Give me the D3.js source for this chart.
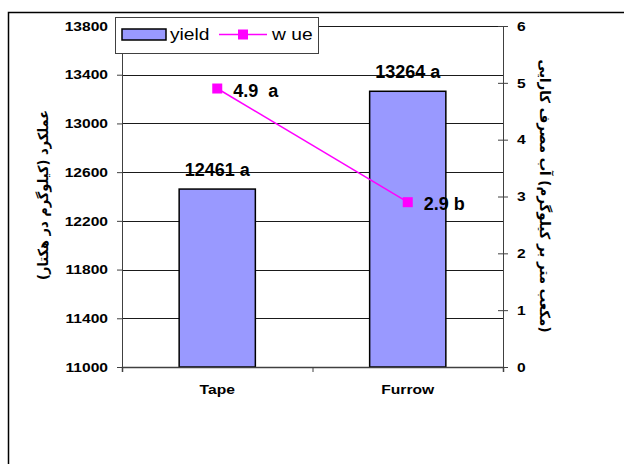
<!DOCTYPE html>
<html>
<head>
<meta charset="utf-8">
<script src="https://cdn.jsdelivr.net/npm/d3@7"></script>
<style>
  body { margin: 0; background: #fff; }
  svg { display: block; font-family: "Liberation Sans", Arial, sans-serif; }
</style>
</head>
<body>
<div id="chart"></div>
<script>
// chart values
const categories = ["Tape", "Furrow"];
const yieldValues = [12461, 13264];
const yieldLabels = ["12461 a", "13264 a"];
const wueValues = [4.9, 2.9];
const wueLabels = ["4.9  a", "2.9 b"];
const yieldTicks = [11000, 11400, 11800, 12200, 12600, 13000, 13400, 13800];
const wueTicks = [0, 1, 2, 3, 4, 5, 6];
const seriesNames = ["yield", "w ue"];
const yieldTitle = "عملکرد (کیلوگرم در هکتار)";
// words kept in left-to-right order like the original picture
const wueTitle = ["کارایی", "مصرف", "آب", "(کیلوگرم", "بر", "متر", "مکعب)"];

const svgWidth = 624, svgHeight = 464;
const margin = { top: 26, right: 121, bottom: 97, left: 122 };
const width = svgWidth - margin.left - margin.right;
const height = svgHeight - margin.top - margin.bottom;

const barColor = "#9999ff";
const lineColor = "#ff00ff";
const axisColor = "#404040";

const svg = d3.select("#chart")
  .append("svg")
  .attr("width", svgWidth)
  .attr("height", svgHeight);

// outer chart frame (runs past the right and bottom edges)
svg.append("rect")
  .attr("x", 8.5).attr("y", 12.5)
  .attr("width", 700).attr("height", 600)
  .attr("fill", "none")
  .attr("stroke", "#000")
  .attr("stroke-width", 1.5);

const chartGroup = svg.append("g")
  .attr("transform", `translate(${margin.left}, ${margin.top})`);

// scales
const x = d3.scaleBand()
  .domain(categories)
  .range([0, width])
  .paddingInner(0.6)
  .paddingOuter(0.3);

const yLeft = d3.scaleLinear()
  .domain([yieldTicks[0], yieldTicks[yieldTicks.length - 1]])
  .range([height, 0]);

const yRight = d3.scaleLinear()
  .domain([wueTicks[0], wueTicks[wueTicks.length - 1]])
  .range([height, 0]);

// stretch text horizontally a bit, the old chart font was wide
function stretch(sel, k) {
  sel.each(function() {
    const w = this.getComputedTextLength();
    d3.select(this)
      .attr("textLength", w * k)
      .attr("lengthAdjust", "spacingAndGlyphs");
  });
}

// gridlines
chartGroup.append("g")
  .selectAll("line")
  .data(yieldTicks)
  .enter()
  .append("line")
  .attr("x1", 0)
  .attr("x2", width)
  .attr("y1", d => Math.round(yLeft(d)) + 0.5)
  .attr("y2", d => Math.round(yLeft(d)) + 0.5)
  .attr("stroke", "#1a1a1a")
  .attr("stroke-width", 1);

// bars
chartGroup.append("g")
  .selectAll("rect")
  .data(categories)
  .enter()
  .append("rect")
  .attr("x", d => x(d))
  .attr("y", (d, i) => yLeft(yieldValues[i]))
  .attr("width", x.bandwidth())
  .attr("height", (d, i) => height - yLeft(yieldValues[i]))
  .attr("fill", barColor)
  .attr("stroke", "#000")
  .attr("stroke-width", 1.5);

// left axis
const leftAxis = chartGroup.append("g")
  .call(d3.axisLeft(yLeft).tickValues(yieldTicks).tickFormat(d3.format("d"))
    .tickSize(5).tickPadding(9));
leftAxis.select(".domain").attr("stroke", axisColor);
leftAxis.selectAll(".tick line").attr("stroke", axisColor);
leftAxis.selectAll("text")
  .attr("font-size", 13)
  .attr("font-weight", "bold")
  .attr("font-family", "'Liberation Sans', Arial, sans-serif")
  .attr("fill", "#000")
  .call(stretch, 1.2);

// right axis, ticks cross the line
const rightAxis = chartGroup.append("g")
  .attr("transform", `translate(${width}, 0)`)
  .call(d3.axisRight(yRight).tickValues(wueTicks).tickFormat(d3.format("d"))
    .tickSize(5).tickPadding(9));
rightAxis.select(".domain").attr("stroke", axisColor);
rightAxis.selectAll(".tick line")
  .attr("x1", -5)
  .attr("x2", 5)
  .attr("stroke", axisColor);
rightAxis.selectAll("text")
  .attr("font-size", 13)
  .attr("font-weight", "bold")
  .attr("font-family", "'Liberation Sans', Arial, sans-serif")
  .attr("fill", "#000")
  .call(stretch, 1.2);

// bottom axis: ticks on category boundaries
const xEdges = d3.scaleLinear().domain([0, categories.length]).range([0, width]);
const bottomAxis = chartGroup.append("g")
  .attr("transform", `translate(0, ${height})`)
  .call(d3.axisBottom(xEdges).ticks(categories.length).tickFormat("").tickSize(5));
bottomAxis.select(".domain").attr("stroke", axisColor).attr("stroke-width", 1.5);
bottomAxis.selectAll(".tick line").attr("stroke", axisColor);

// category labels
const labelAxis = chartGroup.append("g")
  .attr("transform", `translate(0, ${height})`)
  .call(d3.axisBottom(x).tickSize(0).tickPadding(18));
labelAxis.select(".domain").remove();
labelAxis.selectAll("text")
  .attr("font-size", 12.5)
  .attr("font-weight", "bold")
  .attr("font-family", "'Liberation Sans', Arial, sans-serif")
  .attr("fill", "#000")
  .call(stretch, 1.25);

// bar value labels
chartGroup.append("g")
  .selectAll("text")
  .data(categories)
  .enter()
  .append("text")
  .attr("x", d => x(d) + x.bandwidth() / 2)
  .attr("y", (d, i) => yLeft(yieldValues[i]) - 13)
  .attr("text-anchor", "middle")
  .attr("font-size", 18)
  .attr("font-weight", "bold")
  .text((d, i) => yieldLabels[i]);

// wue line
const line = d3.line()
  .x((d, i) => x(categories[i]) + x.bandwidth() / 2)
  .y(d => yRight(d));

chartGroup.append("path")
  .datum(wueValues)
  .attr("d", line)
  .attr("fill", "none")
  .attr("stroke", lineColor)
  .attr("stroke-width", 1.5);

chartGroup.append("g")
  .selectAll("rect")
  .data(wueValues)
  .enter()
  .append("rect")
  .attr("x", (d, i) => x(categories[i]) + x.bandwidth() / 2 - 5)
  .attr("y", d => yRight(d) - 5)
  .attr("width", 10)
  .attr("height", 10)
  .attr("fill", lineColor);

chartGroup.append("g")
  .selectAll("text")
  .data(wueValues)
  .enter()
  .append("text")
  .attr("x", (d, i) => x(categories[i]) + x.bandwidth() / 2 + 16)
  .attr("y", d => yRight(d) + 8)
  .attr("font-size", 18)
  .attr("font-weight", "bold")
  .style("white-space", "pre")
  .text((d, i) => wueLabels[i]);

// axis titles (Persian)
svg.append("text")
  .attr("transform", "translate(43, 195) rotate(-90)")
  .attr("text-anchor", "middle")
  .attr("dy", "0.35em")
  .attr("direction", "rtl")
  .attr("font-family", "'DejaVu Sans', sans-serif")
  .attr("font-size", 14)
  .attr("font-weight", "bold")
  .attr("textLength", 170)
  .attr("lengthAdjust", "spacingAndGlyphs")
  .text(yieldTitle);

svg.append("text")
  .attr("transform", "translate(545, 196) rotate(90)")
  .attr("text-anchor", "middle")
  .attr("dy", "0.35em")
  .attr("font-family", "'DejaVu Sans', sans-serif")
  .attr("font-size", 14)
  .attr("font-weight", "bold")
  .attr("textLength", 273)
  .attr("lengthAdjust", "spacingAndGlyphs")
  .text(wueTitle.join("\u200E "));

// legend
const legend = svg.append("g")
  .attr("transform", "translate(115, 17)");

legend.append("rect")
  .attr("x", 0.5).attr("y", 0.5)
  .attr("width", 203).attr("height", 36)
  .attr("fill", "#fff")
  .attr("stroke", axisColor)
  .attr("stroke-width", 1);

legend.append("rect")
  .attr("x", 7).attr("y", 12)
  .attr("width", 44).attr("height", 11)
  .attr("fill", barColor)
  .attr("stroke", "#000")
  .attr("stroke-width", 1.5);

legend.append("line")
  .attr("x1", 104).attr("x2", 152)
  .attr("y1", 17.5).attr("y2", 17.5)
  .attr("stroke", lineColor)
  .attr("stroke-width", 1.5);

legend.append("rect")
  .attr("x", 123).attr("y", 12.5)
  .attr("width", 10).attr("height", 10)
  .attr("fill", lineColor);

legend.selectAll("text.name")
  .data(seriesNames)
  .enter()
  .append("text")
  .attr("class", "name")
  .attr("x", (d, i) => i === 0 ? 55 : 157)
  .attr("y", 23)
  .attr("font-size", 16)
  .text(d => d)
  .call(stretch, 1.2);
</script>
</body>
</html>
